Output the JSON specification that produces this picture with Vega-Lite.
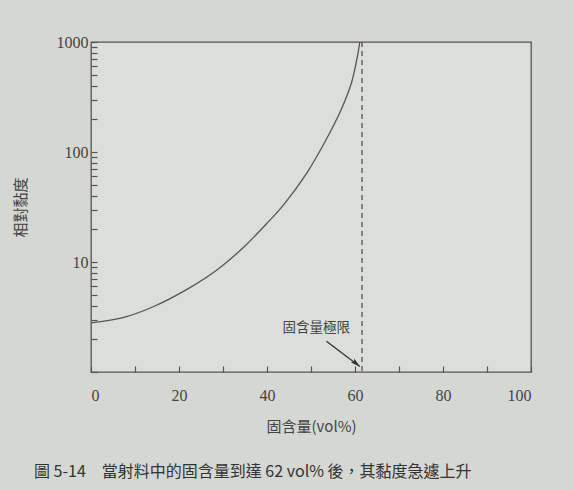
{
  "$schema": "https://vega.github.io/schema/vega-lite/v6.json",
  "width": 440,
  "height": 330,
  "autosize": "none",
  "padding": {"left": 91, "top": 42, "right": 42, "bottom": 118},
  "background": "#d5d7d3",
  "title": {
    "text": "圖 5-14　當射料中的固含量到達 62 vol% 後，其黏度急遽上升",
    "orient": "bottom",
    "anchor": "start",
    "frame": "group",
    "offset": 30,
    "dx": -57,
    "font": "Noto Sans CJK TC",
    "fontSize": 16,
    "fontWeight": "normal",
    "color": "#333333"
  },
  "config": {
    "view": {"stroke": "#555555", "strokeWidth": 1.3, "fill": "#dcdeda"},
    "axis": {
      "grid": false,
      "domain": false,
      "tickColor": "#555555",
      "tickWidth": 1.2,
      "labelFont": "Liberation Serif",
      "labelFontSize": 16,
      "labelColor": "#444444",
      "titleFont": "Noto Sans CJK TC",
      "titleFontSize": 15,
      "titleFontWeight": "normal",
      "titleColor": "#444444"
    }
  },
  "datasets": {
    "curve": [
      {"x": 0, "y": 2.8},
      {"x": 7, "y": 3.1},
      {"x": 14, "y": 3.9},
      {"x": 22, "y": 5.7},
      {"x": 29, "y": 8.7},
      {"x": 35, "y": 14},
      {"x": 40, "y": 22.5},
      {"x": 44, "y": 34},
      {"x": 49, "y": 64},
      {"x": 53, "y": 120},
      {"x": 57, "y": 250},
      {"x": 59.3, "y": 440},
      {"x": 60.6, "y": 760},
      {"x": 61.1, "y": 1000}
    ],
    "limit": [{"x": 61.6}],
    "note": [{"x": 51.2, "y": 2.5, "label": "固含量極限"}],
    "arrow": [{"x": 53.5, "y": 1.9, "x2": 61.1, "y2": 1.12}]
  },
  "layer": [
    {
      "data": {"name": "curve"},
      "mark": {"type": "line", "interpolate": "catmull-rom", "color": "#555555", "strokeWidth": 1.3, "clip": true},
      "encoding": {
        "x": {
          "field": "x", "type": "quantitative",
          "scale": {"domain": [0, 100], "nice": false},
          "axis": {
            "title": "固含量(vol%)",
            "titlePadding": 16,
            "values": [0, 10, 20, 30, 40, 50, 60, 70, 80, 90, 100],
            "labelExpr": "datum.value % 20 == 0 ? datum.label : ''",
            "tickSize": -6,
            "labelPadding": 21
          }
        },
        "y": {
          "field": "y", "type": "quantitative",
          "scale": {"type": "log", "domain": [1, 1000], "nice": false},
          "axis": {
            "title": "相對黏度",
            "titlePadding": 28,
            "values": [1, 2, 3, 4, 5, 6, 7, 8, 9, 10, 20, 30, 40, 50, 60, 70, 80, 90, 100, 200, 300, 400, 500, 600, 700, 800, 900, 1000],
            "labelExpr": "(datum.value == 10 || datum.value == 100 || datum.value == 1000) ? '' + datum.value : ''",
            "tickSize": -6,
            "labelPadding": 9
          }
        }
      }
    },
    {
      "data": {"name": "limit"},
      "mark": {"type": "rule", "color": "#555555", "strokeWidth": 1.3, "strokeDash": [5, 4]},
      "encoding": {"x": {"field": "x", "type": "quantitative"}}
    },
    {
      "data": {"name": "note"},
      "mark": {"type": "text", "font": "Noto Sans CJK TC", "fontSize": 13.5, "color": "#444444"},
      "encoding": {
        "x": {"field": "x", "type": "quantitative"},
        "y": {"field": "y", "type": "quantitative"},
        "text": {"field": "label"}
      }
    },
    {
      "data": {"name": "arrow"},
      "mark": {"type": "rule", "color": "#333333", "strokeWidth": 1.3},
      "encoding": {
        "x": {"field": "x", "type": "quantitative"},
        "y": {"field": "y", "type": "quantitative"},
        "x2": {"field": "x2"},
        "y2": {"field": "y2"}
      }
    },
    {
      "data": {"name": "arrow"},
      "mark": {"type": "point", "shape": "M0,0L0.45,1.6L0,1.3L-0.45,1.6Z", "filled": true, "color": "#333333", "strokeWidth": 0, "size": 140, "angle": 130, "opacity": 1},
      "encoding": {
        "x": {"field": "x2", "type": "quantitative"},
        "y": {"field": "y2", "type": "quantitative"}
      }
    }
  ]
}
